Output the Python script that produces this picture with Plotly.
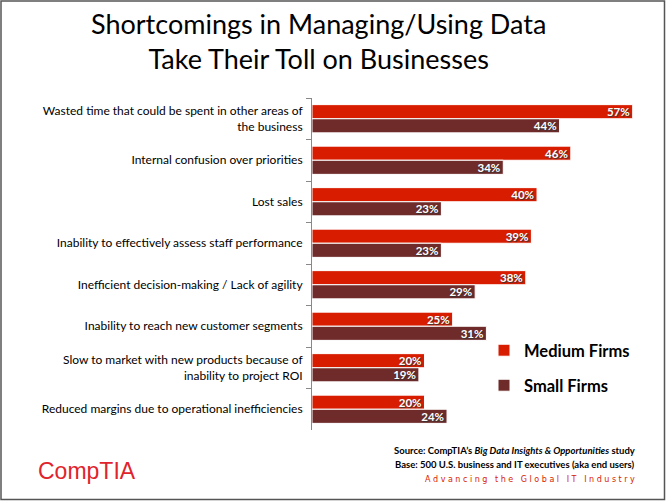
import plotly.graph_objects as go

categories = [
    "Wasted time that could be spent in other areas of<br>the business",
    "Internal confusion over priorities",
    "Lost sales",
    "Inability to effectively assess staff performance",
    "Inefficient decision-making / Lack of agility",
    "Inability to reach new customer segments",
    "Slow to market with new products because of<br>inability to project ROI",
    "Reduced margins due to operational inefficiencies",
]
medium = [57, 46, 40, 39, 38, 25, 20, 20]
small = [44, 34, 23, 23, 29, 31, 19, 24]

W, H = 666, 501
L, R, T, B = 312, 26, 98, 71
PW, PH = W - L - R, H - T - B

def px(x):
    return (x - L) / PW

def py(y):
    return (H - B - y) / PH

FONT = "Lato"
RED = "#d71c00"
BROWN = "#6e2b2a"

fig = go.Figure()
fig.add_trace(go.Bar(
    y=categories, x=medium, orientation="h", name="Medium Firms",
    marker=dict(color=RED, line=dict(color="white", width=1)),
    text=[f"{v}%" for v in medium], textposition="inside", insidetextanchor="end",
    textfont=dict(family=FONT, size=11.5, color="white", weight="bold", shadow="1px 1px 1px #333"),
    legend="legend",
))
fig.add_trace(go.Bar(
    y=categories, x=small, orientation="h", name="Small Firms",
    marker=dict(color=BROWN, line=dict(color="white", width=1)),
    text=[f"{v}%" for v in small], textposition="inside", insidetextanchor="end",
    textfont=dict(family=FONT, size=11.5, color="white", weight="bold", shadow="1px 1px 1px #333"),
    legend="legend2",
))

legend_font = dict(family=FONT, size=16.5, color="black", weight="bold")
fig.update_layout(
    width=W, height=H,
    margin=dict(l=L, r=R, t=T, b=B),
    paper_bgcolor="white", plot_bgcolor="white",
    barmode="group", bargap=0.32, bargroupgap=0.0,
    uniformtext=dict(mode="show", minsize=8),
    xaxis=dict(range=[0, 58.3], visible=False, fixedrange=True),
    yaxis=dict(autorange="reversed", showline=True, linecolor="#888", linewidth=1,
               ticks="outside", tickson="boundaries", ticklen=5, tickcolor="#888",
               tickfont=dict(family=FONT, size=12, color="black"), ticklabelstandoff=6),
    legend=dict(x=px(484), y=py(333), xanchor="left", yanchor="top", font=legend_font,
                bgcolor="rgba(0,0,0,0)", itemwidth=30),
    legend2=dict(x=px(484), y=py(368), xanchor="left", yanchor="top", font=legend_font,
                 bgcolor="rgba(0,0,0,0)", itemwidth=30),
    showlegend=True,
)

fig.add_annotation(text="Shortcomings in Managing/Using Data<br>Take Their Toll on Businesses",
                   xref="paper", yref="paper", x=px(318), y=py(41), xanchor="center", yanchor="middle",
                   showarrow=False, font=dict(family=FONT, size=27, color="black"))
fig.add_annotation(text="Source: CompTIA\u2019s <i>Big Data Insights & Opportunities</i> study",
                   xref="paper", yref="paper", x=px(637), y=py(451), xanchor="right", yanchor="middle",
                   showarrow=False, font=dict(family=FONT, size=9.5, color="black", weight="bold"))
fig.add_annotation(text="Base: 500 U.S. business and IT executives (aka end users)",
                   xref="paper", yref="paper", x=px(637), y=py(464), xanchor="right", yanchor="middle",
                   showarrow=False, font=dict(family=FONT, size=9.5, color="black", weight="bold"))
fig.add_annotation(text="A d v a n c i n g&nbsp;&nbsp; t h e&nbsp;&nbsp; G l o b a l&nbsp;&nbsp; I T&nbsp;&nbsp; I n d u s t r y",
                   xref="paper", yref="paper", x=px(637), y=py(479), xanchor="right", yanchor="middle",
                   showarrow=False, font=dict(family="DejaVu Sans", size=8, color=RED))
fig.add_annotation(text="CompTIA",
                   xref="paper", yref="paper", x=px(36), y=py(471), xanchor="left", yanchor="middle",
                   showarrow=False, font=dict(family="Liberation Sans", size=23, color="#e0242b"))

fig.add_shape(type="rect", xref="paper", yref="paper",
              x0=px(1), x1=px(664.5), y0=py(1), y1=py(499.5),
              line=dict(color="#555", width=1.5), layer="above")

fig.write_html("out.html")
